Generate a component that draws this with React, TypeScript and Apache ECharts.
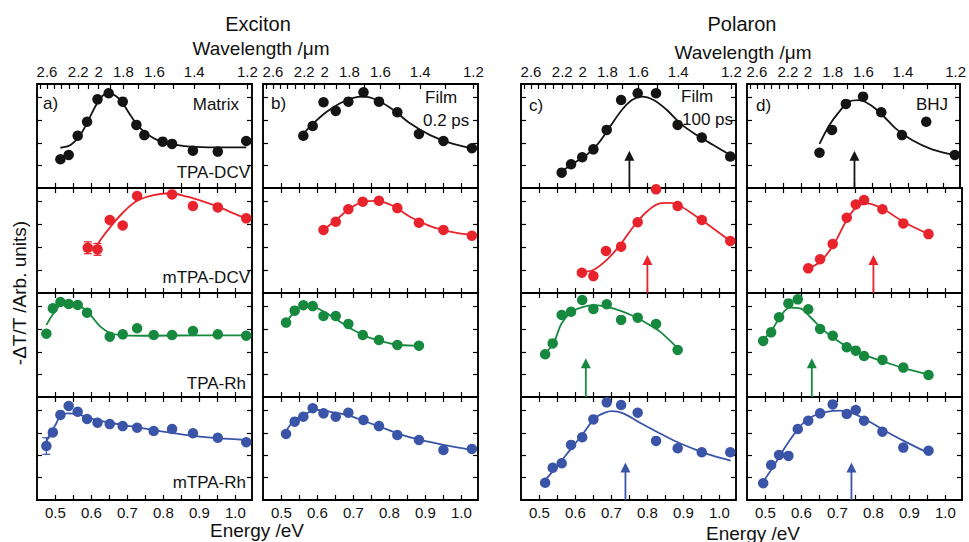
import React, { useEffect, useRef } from "react";
import * as echarts from "echarts";

// ---------- axis ticks / labels ----------
const ENERGY_TICKS = [0.5, 0.55, 0.6, 0.65, 0.7, 0.75, 0.8, 0.85, 0.9, 0.95, 1.0];
const ENERGY_LABELS = [0.5, 0.6, 0.7, 0.8, 0.9, 1.0];
const WAVELENGTH_TICKS = [2.7, 2.6, 2.5, 2.4, 2.3, 2.2, 2.1, 2.0, 1.9, 1.8, 1.7, 1.6, 1.5, 1.4, 1.3, 1.2];
const WAVELENGTH_LABELS = [2.6, 2.2, 2.0, 1.8, 1.6, 1.4, 1.2];
const Y_TICKS = [1, 2, 3, 4];

const PANEL_LETTERS = ["a)", "b)", "c)", "d)"];
const MOLECULES = ["TPA-DCV", "mTPA-DCV", "TPA-Rh", "mTPA-Rh"];
const ROW_COLORS = ["#141414", "#e8232b", "#17893f", "#3a55a7"];

// ---------- data: [energy eV, -dT/T arb.] ----------
// Row 1: TPA-DCV
const A1_PTS = [[0.514,1.27],[0.537,1.46],[0.562,2.31],[0.588,2.93],[0.617,3.92],[0.648,4.19],[0.687,3.82],[0.725,2.79],[0.747,2.34],[0.798,2.05],[0.824,1.95],[0.882,1.65],[0.951,1.61],[1.030,2.08]];
const A1_FIT = [[0.514,1.78],[0.542,1.90],[0.569,2.34],[0.592,3.01],[0.616,3.75],[0.634,4.11],[0.653,4.16],[0.680,3.89],[0.708,3.23],[0.736,2.64],[0.773,2.20],[0.819,1.95],[0.875,1.83],[0.949,1.80],[1.030,1.80]];
const B1_PTS = [[0.561,2.31],[0.587,2.74],[0.617,3.79],[0.651,3.41],[0.686,3.82],[0.728,4.23],[0.771,3.82],[0.822,3.35],[0.882,2.39],[0.950,2.08],[1.029,1.76]];
const B1_FIT = [[0.557,2.34],[0.589,2.86],[0.626,3.37],[0.663,3.75],[0.700,3.99],[0.728,4.04],[0.765,3.89],[0.811,3.45],[0.857,2.86],[0.913,2.34],[0.968,2.00],[1.029,1.76]];
const C1_PTS = [[0.562,0.68],[0.588,1.05],[0.619,1.36],[0.650,1.71],[0.687,2.57],[0.727,3.89],[0.773,4.19],[0.824,4.19],[0.884,2.79],[0.951,2.23],[1.030,1.39]];
const C1_FIT = [[0.562,0.72],[0.594,1.09],[0.631,1.46],[0.664,1.98],[0.696,2.71],[0.729,3.45],[0.757,3.89],[0.784,4.04],[0.817,3.89],[0.854,3.45],[0.891,2.86],[0.937,2.34],[0.983,1.90],[1.030,1.46]];
const D1_PTS = [[0.652,1.56],[0.687,2.57],[0.726,3.72],[0.774,4.04],[0.825,3.35],[0.883,2.34],[0.951,2.93],[1.031,1.46]];
const D1_FIT = [[0.652,1.95],[0.680,2.79],[0.707,3.37],[0.735,3.82],[0.763,3.89],[0.795,3.67],[0.828,3.23],[0.865,2.64],[0.911,2.12],[0.967,1.71],[1.031,1.46]];
// Row 2: mTPA-DCV
const A2_PTS = [[0.590,1.98],[0.617,1.91],[0.651,3.20],[0.687,2.96],[0.727,4.25],[0.824,4.32],[0.882,3.81],[0.951,3.75],[1.030,3.27]];
const A2_ERR = [[0.590,1.72,2.24],[0.617,1.65,2.17],[0.824,4.22,4.42]];
const A2_FIT = [[0.606,1.81],[0.625,2.32],[0.653,2.90],[0.690,3.56],[0.727,4.04],[0.773,4.29],[0.819,4.37],[0.866,4.22],[0.912,4.00],[0.958,3.74],[0.995,3.49],[1.030,3.27]];
const B2_PTS = [[0.617,2.76],[0.651,3.12],[0.686,3.67],[0.726,4.00],[0.771,4.04],[0.822,3.72],[0.882,3.08],[0.950,2.76],[1.029,2.51]];
const B2_FIT = [[0.617,2.76],[0.654,3.23],[0.691,3.71],[0.728,4.00],[0.765,4.04],[0.811,3.81],[0.857,3.34],[0.913,2.93],[0.968,2.69],[1.029,2.54]];
const C2_PTS = [[0.618,0.89],[0.650,0.74],[0.685,1.84],[0.727,2.03],[0.773,3.10],[0.824,4.54],[0.884,3.81],[0.951,3.20],[1.030,2.28]];
const C2_FIT = [[0.618,0.93],[0.650,1.01],[0.687,1.45],[0.724,2.10],[0.761,2.90],[0.798,3.56],[0.835,3.93],[0.863,3.95],[0.891,3.81],[0.937,3.34],[0.983,2.83],[1.030,2.28]];
const D2_PTS = [[0.619,1.08],[0.652,1.48],[0.687,2.15],[0.726,3.30],[0.751,3.88],[0.774,4.07],[0.825,3.67],[0.883,3.05],[0.953,2.58]];
const D2_FIT = [[0.619,1.08],[0.652,1.37],[0.689,2.10],[0.726,3.20],[0.754,3.78],[0.782,3.93],[0.828,3.67],[0.883,3.12],[0.953,2.58]];
// Row 3: TPA-Rh
const A3_PTS = [[0.475,2.80],[0.493,3.92],[0.514,4.20],[0.537,4.11],[0.562,4.07],[0.588,3.73],[0.651,2.67],[0.687,2.77],[0.727,3.04],[0.773,2.74],[0.824,2.74],[0.882,2.92],[0.951,2.77],[1.030,2.71]];
const A3_FIT = [[0.475,3.18],[0.495,3.70],[0.514,4.07],[0.542,4.17],[0.569,4.02],[0.597,3.63],[0.625,3.11],[0.653,2.82],[0.690,2.73],[0.764,2.71],[0.903,2.73],[1.030,2.73]];
const B3_PTS = [[0.513,3.29],[0.537,3.82],[0.561,4.06],[0.587,4.02],[0.617,3.58],[0.651,3.58],[0.686,3.23],[0.726,2.74],[0.771,2.52],[0.822,2.30],[0.882,2.27]];
const B3_FIT = [[0.513,3.29],[0.537,3.77],[0.561,4.02],[0.589,3.99],[0.626,3.70],[0.663,3.33],[0.700,2.96],[0.737,2.67],[0.783,2.45],[0.830,2.30],[0.882,2.27]];
const C3_PTS = [[0.516,1.89],[0.537,2.37],[0.562,3.63],[0.588,3.77],[0.619,4.29],[0.650,3.89],[0.687,4.10],[0.727,3.41],[0.773,3.51],[0.824,3.23],[0.884,2.08]];
const C3_FIT = [[0.516,1.93],[0.539,2.37],[0.562,3.26],[0.590,3.77],[0.622,3.99],[0.654,4.06],[0.687,3.99],[0.724,3.82],[0.761,3.58],[0.798,3.26],[0.835,2.89],[0.884,2.15]];
const D3_PTS = [[0.494,2.48],[0.516,2.86],[0.538,3.53],[0.564,4.14],[0.590,4.32],[0.619,3.88],[0.652,3.01],[0.687,2.71],[0.726,2.20],[0.751,2.05],[0.774,1.81],[0.825,1.64],[0.883,1.30],[0.953,0.97]];
const D3_FIT = [[0.494,2.53],[0.518,2.96],[0.541,3.55],[0.568,3.95],[0.596,3.92],[0.624,3.55],[0.661,2.96],[0.698,2.52],[0.735,2.15],[0.781,1.83],[0.837,1.52],[0.893,1.23],[0.953,1.00]];
// Row 4: mTPA-Rh
const A4_PTS = [[0.475,2.41],[0.493,3.02],[0.514,3.80],[0.537,4.20],[0.562,3.94],[0.588,3.62],[0.617,3.45],[0.651,3.39],[0.687,3.30],[0.727,3.23],[0.773,3.08],[0.824,3.17],[0.882,2.98],[0.951,2.78],[1.030,2.58]];
const A4_ERR = [[0.475,2.04,2.78]];
const A4_FIT = [[0.475,2.60],[0.486,2.98],[0.500,3.35],[0.514,3.75],[0.532,3.87],[0.560,3.84],[0.597,3.65],[0.653,3.45],[0.717,3.27],[0.791,3.08],[0.866,2.90],[0.949,2.76],[1.030,2.68]];
const B4_PTS = [[0.513,2.95],[0.537,3.50],[0.561,3.72],[0.587,4.10],[0.617,3.87],[0.651,3.72],[0.686,3.90],[0.728,3.57],[0.771,3.30],[0.822,2.90],[0.882,2.68],[0.950,2.23],[1.029,2.28]];
const B4_FIT = [[0.513,3.08],[0.533,3.50],[0.561,3.80],[0.598,4.02],[0.635,3.94],[0.681,3.80],[0.728,3.54],[0.774,3.27],[0.830,2.93],[0.885,2.68],[0.950,2.46],[1.029,2.23]];
const C4_PTS = [[0.516,0.77],[0.537,1.44],[0.562,1.64],[0.588,2.46],[0.619,2.80],[0.650,3.60],[0.687,4.36],[0.727,4.24],[0.773,3.90],[0.824,2.64],[0.884,2.31],[0.951,2.13],[1.030,2.13]];
const C4_FIT = [[0.516,0.89],[0.548,1.49],[0.585,2.23],[0.622,2.98],[0.654,3.65],[0.682,3.90],[0.701,3.97],[0.733,3.87],[0.779,3.45],[0.826,3.05],[0.881,2.60],[0.937,2.23],[0.983,1.97],[1.031,1.76]];
const D4_PTS = [[0.494,0.75],[0.516,1.56],[0.538,2.01],[0.564,1.97],[0.590,3.17],[0.619,3.54],[0.652,3.87],[0.687,4.27],[0.726,3.84],[0.751,4.02],[0.774,3.54],[0.825,3.05],[0.883,2.34],[0.953,2.20]];
const D4_FIT = [[0.494,0.82],[0.522,1.49],[0.550,2.23],[0.578,2.90],[0.605,3.43],[0.633,3.75],[0.670,3.94],[0.707,3.99],[0.744,3.87],[0.781,3.57],[0.828,3.13],[0.883,2.65],[0.953,2.09]];

// polaron-band arrows (columns c, d), per row
const ARROW_ENERGY = [0.75, 0.80, 0.629, 0.739];
const ARROW_HEIGHT = [1.65, 1.66, 1.71, 1.67];

const PANEL_PTS = [A1_PTS, B1_PTS, C1_PTS, D1_PTS, A2_PTS, B2_PTS, C2_PTS, D2_PTS, A3_PTS, B3_PTS, C3_PTS, D3_PTS, A4_PTS, B4_PTS, C4_PTS, D4_PTS];
const PANEL_FIT = [A1_FIT, B1_FIT, C1_FIT, D1_FIT, A2_FIT, B2_FIT, C2_FIT, D2_FIT, A3_FIT, B3_FIT, C3_FIT, D3_FIT, A4_FIT, B4_FIT, C4_FIT, D4_FIT];

// ---------- layout ----------
const HC = 1.2398; // eV·µm
const XMIN = 0.449;
const XMAX = 1.046;
const YMIN = 0;
const YMAX = 4.6;
const COL_LEFT = [37, 263, 521, 747];
const ROW_TOP = [84, 188, 293, 397];
const ROW_H = [104, 105, 104, 103];
const PANEL_W = 215;
const FONT = "'Liberation Sans', Arial, Helvetica, sans-serif";
const INK = "#111";

function buildOption() {
  const grid: any[] = [];
  const xAxis: any[] = [];
  const yAxis: any[] = [];
  const series: any[] = [];

  const lineStyle = { color: "#000", width: 1.9 };
  const tickStyle = { color: "#000", width: 1.2 };

  for (let p = 0; p < 16; p++) {
    const r = Math.floor(p / 4);
    const c = p % 4;
    const color = ROW_COLORS[r];
    grid.push({ left: COL_LEFT[c], top: ROW_TOP[r], width: PANEL_W, height: ROW_H[r], containLabel: false });

    // bottom energy axis
    xAxis.push({
      type: "value", gridIndex: p, position: "bottom", min: XMIN, max: XMAX,
      axisLine: { show: true, onZero: false, lineStyle },
      axisTick: { show: true, inside: true, length: 5, customValues: ENERGY_TICKS, lineStyle: tickStyle },
      axisLabel: {
        show: r === 3, customValues: ENERGY_LABELS, margin: 5,
        formatter: (v: number) => v.toFixed(1), fontSize: 15, color: INK, fontFamily: FONT,
      },
      splitLine: { show: false },
    });
    // top axis: wavelength for top row, energy ticks otherwise
    if (r === 0) {
      xAxis.push({
        type: "value", gridIndex: p, position: "top", min: XMIN, max: XMAX,
        axisLine: { show: true, onZero: false, lineStyle },
        axisTick: { show: true, inside: true, length: 5, customValues: WAVELENGTH_TICKS.map((l) => HC / l), lineStyle: tickStyle },
        axisLabel: {
          show: true, customValues: WAVELENGTH_LABELS.map((l) => HC / l), margin: 5,
          formatter: (v: number) => String(+(HC / v).toFixed(1)), fontSize: 15, color: INK, fontFamily: FONT,
        },
        splitLine: { show: false },
      });
    } else {
      xAxis.push({
        type: "value", gridIndex: p, position: "top", min: XMIN, max: XMAX,
        axisLine: { show: true, onZero: false, lineStyle },
        axisTick: { show: true, inside: true, length: 5, customValues: ENERGY_TICKS, lineStyle: tickStyle },
        axisLabel: { show: false },
        splitLine: { show: false },
      });
    }
    for (const pos of ["left", "right"]) {
      yAxis.push({
        type: "value", gridIndex: p, position: pos, min: YMIN, max: YMAX,
        axisLine: { show: true, onZero: false, lineStyle },
        axisTick: { show: true, inside: true, length: 5, customValues: Y_TICKS, lineStyle: tickStyle },
        axisLabel: { show: false },
        splitLine: { show: false },
      });
    }

    series.push({
      type: "line", xAxisIndex: 2 * p, yAxisIndex: 2 * p, data: PANEL_FIT[p],
      smooth: 0.35, symbol: "none", showSymbol: false, z: 2,
      lineStyle: { color, width: 1.8 }, silent: true,
    });
    series.push({
      type: "scatter", xAxisIndex: 2 * p, yAxisIndex: 2 * p, data: PANEL_PTS[p],
      symbol: "circle", symbolSize: 10.5, itemStyle: { color, opacity: 1 }, z: 3, silent: true,
    });

    if (c >= 2) {
      series.push({
        type: "custom", xAxisIndex: 2 * p, yAxisIndex: 2 * p, z: 4, silent: true,
        data: [[ARROW_ENERGY[r], ARROW_HEIGHT[r]]],
        encode: { x: 0, y: 1 },
        renderItem: (_params: any, api: any) => {
          const base = api.coord([api.value(0), 0]);
          const tip = api.coord([api.value(0), api.value(1)]);
          const headH = 10;
          const headW = 5;
          return {
            type: "group",
            children: [
              { type: "line", shape: { x1: base[0], y1: base[1], x2: tip[0], y2: tip[1] + headH - 1 }, style: { stroke: color, lineWidth: 1.8 } },
              { type: "polygon", shape: { points: [[tip[0], tip[1]], [tip[0] - headW, tip[1] + headH], [tip[0] + headW, tip[1] + headH]] }, style: { fill: color } },
            ],
          };
        },
      });
    }
  }

  const errSets: [number, number[][]][] = [[4, A2_ERR], [12, A4_ERR]];
  for (const [p, err] of errSets) {
    const color = ROW_COLORS[Math.floor(p / 4)];
    series.push({
      type: "custom", xAxisIndex: 2 * p, yAxisIndex: 2 * p, z: 2, silent: true,
      data: err, encode: { x: 0, y: [1, 2] },
      renderItem: (_params: any, api: any) => {
        const lo = api.coord([api.value(0), api.value(1)]);
        const hi = api.coord([api.value(0), api.value(2)]);
        const w = 4;
        const st = { stroke: color, lineWidth: 1.2 };
        return {
          type: "group",
          children: [
            { type: "line", shape: { x1: lo[0], y1: lo[1], x2: hi[0], y2: hi[1] }, style: st },
            { type: "line", shape: { x1: lo[0] - w, y1: lo[1], x2: lo[0] + w, y2: lo[1] }, style: st },
            { type: "line", shape: { x1: hi[0] - w, y1: hi[1], x2: hi[0] + w, y2: hi[1] }, style: st },
          ],
        };
      },
    });
  }

  const txt = (text: string, x: number, y: number, size: number, align = "center", extra: any = {}) => ({
    type: "text", x, y, z: 20, silent: true, ...extra,
    style: { text, fontSize: size, fontFamily: FONT, fill: INK, textAlign: align, textVerticalAlign: "middle" },
  });

  const graphic: any[] = [
    txt("Exciton", 258, 24, 20),
    txt("Wavelength /μm", 261, 48, 19),
    txt("Polaron", 742, 24, 20),
    txt("Wavelength /μm", 743, 52, 19),
    txt("Energy /eV", 257, 530, 19),
    txt("Energy /eV", 753, 533, 19),
    txt("-ΔT/T /Arb. units)", 19, 293, 19, "center", { rotation: Math.PI / 2 }),
    txt(PANEL_LETTERS[0], 43, 103, 17, "left"),
    txt(PANEL_LETTERS[1], 271, 103, 17, "left"),
    txt(PANEL_LETTERS[2], 529, 105, 17, "left"),
    txt(PANEL_LETTERS[3], 756, 105, 17, "left"),
    txt("Matrix", 239, 104, 17, "right"),
    txt("Film", 425, 97, 17, "left"),
    txt("0.2 ps", 423, 120, 17, "left"),
    txt("Film", 681, 96, 17, "left"),
    txt("100 ps", 682, 119, 17, "left"),
    txt("BHJ", 948, 104, 17, "right"),
    txt(MOLECULES[0], 250, 172, 17, "right"),
    txt(MOLECULES[1], 250, 277, 17, "right"),
    txt(MOLECULES[2], 246, 383, 17, "right"),
    txt(MOLECULES[3], 246, 482, 17, "right"),
  ];

  return { animation: false, backgroundColor: "#fff", grid, xAxis, yAxis, series, graphic };
}

export default function App() {
  const ref = useRef<HTMLDivElement>(null);
  useEffect(() => {
    document.body.style.margin = "0";
    if (!ref.current) return;
    const chart = echarts.init(ref.current, undefined, { renderer: "svg" });
    chart.setOption(buildOption() as any);
    return () => chart.dispose();
  }, []);
  return <div ref={ref} style={{ width: 969, height: 542 }} />;
}
